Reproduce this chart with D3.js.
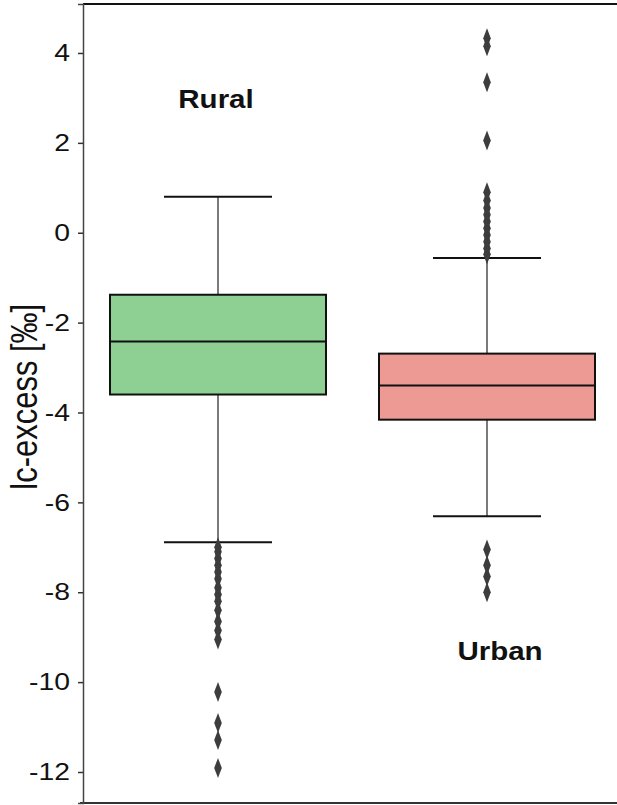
<!DOCTYPE html>
<html>
<head>
<meta charset="utf-8">
<script src="https://cdn.jsdelivr.net/npm/d3@7"></script>
<style>
  body { margin: 0; background: #fff; }
  svg { display: block; font-family: "Liberation Sans", Arial, sans-serif; }
</style>
</head>
<body>
<svg id="chart" width="617" height="805"></svg>
<script>
// groups shown in the chart
const groups = ['Rural', 'Urban'];
const boxColors = ['#8ed094', '#ed9a95'];

// box statistics: [whiskerLow, q1, median, q3, whiskerHigh]
const ruralStats = [-6.89, -3.6, -2.42, -1.38, 0.8];
const urbanStats = [-6.31, -4.16, -3.4, -2.69, -0.56];

// outliers
const ruralOutliers = [-7.0, -7.1, -7.25, -7.4, -7.55, -7.7, -7.9, -8.05, -8.2, -8.4,
  -8.65, -8.85, -9.05, -10.22, -10.91, -11.29, -11.91];
const urbanOutliers = [4.33, 4.15, 3.35, 2.05, 0.9, 0.72, 0.55, 0.4, 0.25, 0.1, -0.05,
  -0.2, -0.35, -0.48, -7.05, -7.4, -7.65, -8.0];

const yTicks = [4, 2, 0, -2, -4, -6, -8, -10, -12];

const svg = d3.select('#chart');
const plotLeft = 83;
const plotTop = 4;
const plotBottom = 803;
// the picture is a little stretched sideways, so text gets widened too
const stretch = 1.18;

const y = d3.scaleLinear().domain([-12.69, 5.09]).range([plotBottom, plotTop]);
// one position per group
const x = d3.scalePoint().domain(groups).range([83.5, 621.5]).padding(0.5);
const boxW = 216;

const stats = [ruralStats, urbanStats];
const outliers = [ruralOutliers, urbanOutliers];

// frame: left axis, top line, bottom line
svg.append('line').attr('x1', plotLeft).attr('x2', 617).attr('y1', plotTop).attr('y2', plotTop)
  .attr('stroke', '#111').attr('stroke-width', 2.2);
svg.append('line').attr('x1', plotLeft - 3).attr('x2', 617).attr('y1', plotBottom).attr('y2', plotBottom)
  .attr('stroke', '#333').attr('stroke-width', 2);

const axis = svg.append('g').attr('transform', `translate(${plotLeft},0)`)
  .call(d3.axisLeft(y).tickValues(yTicks).tickSize(5).tickPadding(6).tickFormat(d3.format('d')));
axis.select('.domain').attr('stroke', '#444').attr('stroke-width', 1.5);
axis.selectAll('.tick line').attr('stroke', '#333').attr('stroke-width', 1.5);
axis.selectAll('.tick text').attr('font-size', 24).attr('fill', '#111')
  .attr('font-family', '"Liberation Sans", Arial, sans-serif')
  .attr('transform', `scale(${stretch},1)`)
  .text(d => (d < 0 ? '-' + Math.abs(d) : d));

svg.append('text')
  .attr('transform', `translate(37,${y(-3.65)}) scale(${stretch},1) rotate(-90)`)
  .attr('text-anchor', 'middle')
  .attr('font-size', 31)
  .attr('fill', '#111')
  .text('lc-excess [‰]');

const diamond = 'M0,-10L3.8,0L0,10L-3.8,0Z';

groups.forEach((g, i) => {
  const s = stats[i];
  const cx = x(g);
  const grp = svg.append('g');
  // whisker stems
  grp.append('line').attr('x1', cx).attr('x2', cx).attr('y1', y(s[4])).attr('y2', y(s[3]))
    .attr('stroke', '#333').attr('stroke-width', 1.3);
  grp.append('line').attr('x1', cx).attr('x2', cx).attr('y1', y(s[1])).attr('y2', y(s[0]))
    .attr('stroke', '#333').attr('stroke-width', 1.3);
  // caps
  [s[0], s[4]].forEach(v => {
    grp.append('line').attr('x1', cx - boxW / 4).attr('x2', cx + boxW / 4)
      .attr('y1', y(v)).attr('y2', y(v)).attr('stroke', '#111').attr('stroke-width', 2);
  });
  // box
  grp.append('rect').attr('x', cx - boxW / 2).attr('width', boxW)
    .attr('y', y(s[3])).attr('height', y(s[1]) - y(s[3]))
    .attr('fill', boxColors[i]).attr('stroke', '#111').attr('stroke-width', 2);
  grp.append('line').attr('x1', cx - boxW / 2).attr('x2', cx + boxW / 2)
    .attr('y1', y(s[2])).attr('y2', y(s[2])).attr('stroke', '#111').attr('stroke-width', 2);
  // outliers
  grp.selectAll('path.out').data(outliers[i]).join('path')
    .attr('class', 'out')
    .attr('d', diamond)
    .attr('transform', d => `translate(${cx},${y(d)})`)
    .attr('fill', '#3d3d3d');
});

// group labels
svg.append('text').attr('transform', `translate(216,108) scale(${stretch},1)`)
  .attr('text-anchor', 'middle')
  .attr('font-size', 25).attr('font-weight', 'bold').attr('fill', '#111').text('Rural');
svg.append('text').attr('transform', `translate(500,660) scale(${stretch},1)`)
  .attr('text-anchor', 'middle')
  .attr('font-size', 25).attr('font-weight', 'bold').attr('fill', '#111').text('Urban');
</script>
</body>
</html>
